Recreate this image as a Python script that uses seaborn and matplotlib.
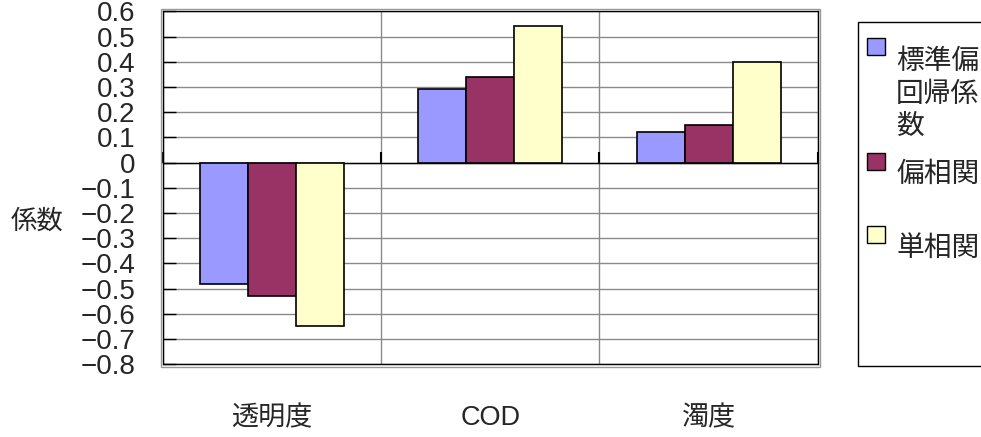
import textwrap

import matplotlib
matplotlib.use("Agg")
import matplotlib.pyplot as plt
import matplotlib.transforms as mtransforms
from matplotlib.patches import Rectangle
from matplotlib.ticker import FixedLocator, FuncFormatter, NullFormatter
import pandas as pd
import seaborn as sns

# ---- data -------------------------------------------------------------
categories = ["透明度", "COD", "濁度"]
series = ["標準偏回帰係数", "偏相関", "単相関"]
std_coef = [-0.48, 0.29, 0.12]      # 標準偏回帰係数
partial_corr = [-0.53, 0.34, 0.15]  # 偏相関
simple_corr = [-0.65, 0.54, 0.40]   # 単相関
colors = ["#9999FF", "#993366", "#FFFFCC"]
y_ticks = [0.6, 0.5, 0.4, 0.3, 0.2, 0.1, 0.0,
           -0.1, -0.2, -0.3, -0.4, -0.5, -0.6, -0.7, -0.8]
y_label = "係数"

df = pd.DataFrame({
    "category": categories * 3,
    "series": [s for s in series for _ in categories],
    "value": std_coef + partial_corr + simple_corr,
})

# ---- style ------------------------------------------------------------
sns.set_theme(style="white")
plt.rcParams["font.family"] = ["Liberation Sans", "Noto Sans CJK JP", "DejaVu Sans"]
plt.rcParams["axes.unicode_minus"] = True

W, H = 981, 437
fig = plt.figure(figsize=(W / 100, H / 100), dpi=100)


def fx(x):
    return x / W


def fy(y):
    return 1 - y / H


# plot area in pixels
L, T, R, B = 163, 11.3, 817.7, 364.3
ax = fig.add_axes([fx(L), fy(B), (R - L) / W, (B - T) / H])

sns.barplot(data=df, x="category", y="value", hue="series",
            order=categories, hue_order=series, palette=colors,
            width=0.66, saturation=1, edgecolor="black", linewidth=1.2,
            legend=False, ax=ax, zorder=3)

ax.set_xlim(-0.5, 2.5)
ax.set_ylim(-0.8, 0.6)

# y axis: ticks pointing inward, labels with true minus sign
ax.yaxis.set_major_locator(FixedLocator(y_ticks))
ax.yaxis.set_major_formatter(
    FuncFormatter(lambda v, _: "0" if abs(v) < 1e-9 else f"{v:.1f}".replace("-", "\u2212")))
ax.tick_params(axis="y", direction="in", length=9.5, width=1, color="black",
               labelsize=20, pad=20, left=True)

# x axis sits on the zero line; ticks mark the category boundaries
ax.spines["bottom"].set_position(("data", 0))
ax.xaxis.set_major_locator(FixedLocator([-0.5, 0.5, 1.5, 2.5]))
ax.xaxis.set_major_formatter(NullFormatter())
ax.tick_params(axis="x", direction="in", length=8, width=1.5, color="black", bottom=True)
ax.set_xlabel("")

ax.grid(True, color="#8a8a8a", linewidth=1)
ax.set_axisbelow(True)
for side in ["left", "right", "top", "bottom"]:
    ax.spines[side].set_visible(True)
    ax.spines[side].set_color("black")
    ax.spines[side].set_linewidth(1)
# bottom frame edge of the plot area
ax.plot([0, 1], [0, 0], transform=ax.transAxes, color="black", lw=1, clip_on=False)

# grey outer border of the plot area
fig.patches.append(Rectangle((fx(L - 2.5), fy(B + 2.5)), (R - L + 5) / W, (B - T + 5) / H,
                             transform=fig.transFigure, fill=False,
                             edgecolor="#9a9a9a", linewidth=1))

# y axis title, horizontal
ax.set_ylabel(y_label, rotation=0, fontsize=19, ha="center", va="center")
ax.yaxis.set_label_coords((37 - L) / (R - L), (B - 222) / (B - T))

# category labels below the plot area
trans = mtransforms.blended_transform_factory(ax.transData, fig.transFigure)
for i, cat in enumerate(categories):
    ax.text(i, fy(418), cat, transform=trans, ha="center", va="center", fontsize=19.5)

# legend box (runs off the right edge of the figure)
fig.patches.append(Rectangle((fx(858), fy(366)), (1010 - 858) / W, (366 - 22) / H,
                             transform=fig.transFigure, facecolor="white",
                             edgecolor="black", linewidth=1))
marker_tops = [38, 153, 226]
text_centers = [62, 175, 249]
for name, col, mt, tc in zip(series, colors, marker_tops, text_centers):
    fig.patches.append(Rectangle((fx(867), fy(mt + 17)), 18 / W, 17 / H,
                                 transform=fig.transFigure, facecolor=col,
                                 edgecolor="black", linewidth=1))
    lines = textwrap.wrap(name, 3)
    for k, line in enumerate(lines):
        fig.text(fx(896), fy(tc + 32.5 * k), line,
                 ha="left", va="center", fontsize=20)

fig.savefig("out.png", dpi=100)
